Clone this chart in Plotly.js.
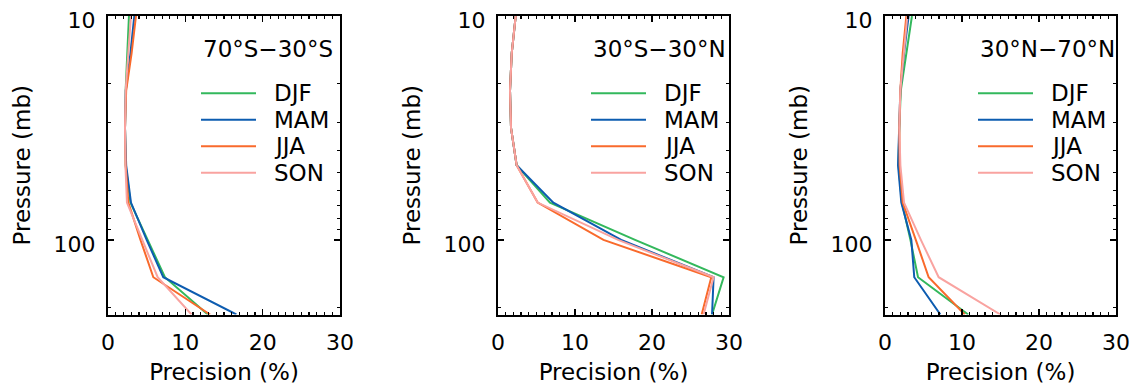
<!DOCTYPE html>
<html>
<head>
<meta charset="utf-8">
<script src="https://cdn.plot.ly/plotly-3.0.1.min.js"></script>
<style>
html,body{margin:0;padding:0;background:#fff;}
#chart{width:1133px;height:389px;}
</style>
</head>
<body>
<div id="chart"></div>
<script>
// ---- data ----
const pressure = [10, 14.68, 21.54, 31.62, 46.42, 68.13, 100, 146.8, 215.4];
const seasons = ["DJF", "MAM", "JJA", "SON"];
const seasonColors = ["#33b85c", "#0d5cb0", "#f96a2c", "#f9a3a0"];
const regions = ["70°S−30°S", "30°S−30°N", "30°N−70°N"];

const south_DJF = [2.71, 2.45, 2.28, 2.20, 2.28, 2.90, 5.10, 7.36, 12.9];
const south_MAM = [3.40, 2.90, 2.30, 2.20, 2.35, 2.97, 5.00, 7.15, 16.6];
const south_JJA = [3.62, 3.05, 2.35, 2.20, 2.28, 2.63, 4.20, 5.86, 13.2];
const south_SON = [2.97, 2.63, 2.28, 2.20, 2.25, 2.45, 4.43, 6.42, 10.8];

const tropic_DJF = [2.30, 1.78, 1.56, 1.69, 2.42, 6.75, 17.8, 29.3, 27.8];
const tropic_MAM = [2.30, 1.78, 1.56, 1.69, 2.42, 7.19, 16.0, 28.0, 27.8];
const tropic_JJA = [2.30, 1.78, 1.56, 1.69, 2.42, 5.15, 13.7, 27.7, 26.45];
const tropic_SON = [2.30, 1.78, 1.56, 1.69, 2.42, 5.15, 15.6, 28.0, 26.7];

const north_DJF = [3.50, 2.73, 2.05, 1.86, 1.75, 2.20, 3.30, 4.29, 10.8];
const north_MAM = [3.07, 2.47, 1.99, 1.86, 1.69, 2.12, 3.42, 3.80, 7.19];
const north_JJA = [2.77, 2.30, 1.99, 1.86, 1.90, 2.30, 4.00, 5.67, 10.35];
const north_SON = [2.90, 2.40, 1.99, 1.86, 2.00, 2.47, 4.66, 6.97, 14.98];

const xTickVals = [0, 10, 20, 30];
const yTickVals = [10, 100];
const yTickText = ["10", "100"];
const yMinorVals = [20, 30, 40, 50, 60, 70, 80, 90, 200];

// ---- layout helpers ----
const W = 1133, H = 389;
const panelLeft = [108, 498, 885];
const panelRight = [340, 729, 1116];
const plotTop = 16, plotBottom = 314.5;
const px = v => v / W;
const py = v => 1 - v / H;

const panelData = [
  [south_DJF, south_MAM, south_JJA, south_SON],
  [tropic_DJF, tropic_MAM, tropic_JJA, tropic_SON],
  [north_DJF, north_MAM, north_JJA, north_SON]
];

const FONT = "DejaVu Sans, Arial, sans-serif";
const traces = [];
const layout = {
  width: W, height: H,
  margin: {l: 0, r: 0, t: 0, b: 0},
  paper_bgcolor: "#fff", plot_bgcolor: "#fff",
  showlegend: false,
  font: {family: FONT, color: "#000", size: 22},
  shapes: [], annotations: []
};

panelData.forEach((series, p) => {
  const sfx = p === 0 ? "" : String(p + 1);
  series.forEach((vals, s) => {
    traces.push({
      type: "scatter", mode: "lines",
      x: vals, y: pressure,
      name: seasons[s],
      xaxis: "x" + sfx, yaxis: "y" + sfx,
      line: {color: seasonColors[s], width: 2},
      hoverinfo: "skip"
    });
  });
  layout["xaxis" + sfx] = {
    domain: [px(panelLeft[p]), px(panelRight[p])],
    anchor: "y" + sfx,
    range: [0, 30], fixedrange: true,
    showgrid: false, zeroline: false,
    showline: true, linecolor: "#000", linewidth: 2, mirror: "allticks",
    ticks: "inside", ticklen: 6, tickwidth: 1.5, tickcolor: "#000",
    tickmode: "array", tickvals: xTickVals,
    ticklabelstandoff: 7,
    tickfont: {family: FONT, size: 22},
    minor: {dtick: 1, ticks: "inside", ticklen: 3, tickwidth: 1.2, tickcolor: "#000", showgrid: false},
    title: {text: "Precision (%)", font: {family: FONT, size: 23}, standoff: 10}
  };
  layout["yaxis" + sfx] = {
    domain: [py(plotBottom), py(plotTop)],
    anchor: "x" + sfx,
    type: "log",
    range: [Math.log10(215.4), 1], fixedrange: true,
    showgrid: false, zeroline: false,
    showline: true, linecolor: "#000", linewidth: 2, mirror: "allticks",
    ticks: "inside", ticklen: 6, tickwidth: 1.5, tickcolor: "#000",
    tickmode: "array", tickvals: yTickVals, ticktext: yTickText,
    ticklabelstandoff: 6,
    ticklabelshift: -4,
    tickfont: {family: FONT, size: 22},
    minor: {tickmode: "array", tickvals: yMinorVals, ticks: "inside", ticklen: 3, tickwidth: 1.2, tickcolor: "#000", showgrid: false},
    title: {text: "Pressure (mb)", font: {family: FONT, size: 23}, standoff: 17}
  };

  // panel title
  layout.annotations.push({
    xref: "paper", yref: "paper",
    x: px(panelLeft[p] + 93), y: py(49),
    xanchor: "left", yanchor: "middle",
    text: regions[p], showarrow: false,
    font: {family: FONT, size: 23, color: "#000"}
  });
  // legend
  seasons.forEach((name, s) => {
    const yy = 93.3 + s * 26.5;
    layout.shapes.push({
      type: "line", xref: "paper", yref: "paper",
      x0: px(panelLeft[p] + 93), x1: px(panelLeft[p] + 148),
      y0: py(yy), y1: py(yy),
      line: {color: seasonColors[s], width: 2}
    });
    layout.annotations.push({
      xref: "paper", yref: "paper",
      x: px(panelLeft[p] + 164), y: py(yy),
      xanchor: "left", yanchor: "middle",
      text: name, showarrow: false,
      font: {family: FONT, size: 23, color: "#000"}
    });
  });
});

Plotly.newPlot("chart", traces, layout, {staticPlot: true, displayModeBar: false});
</script>
</body>
</html>
